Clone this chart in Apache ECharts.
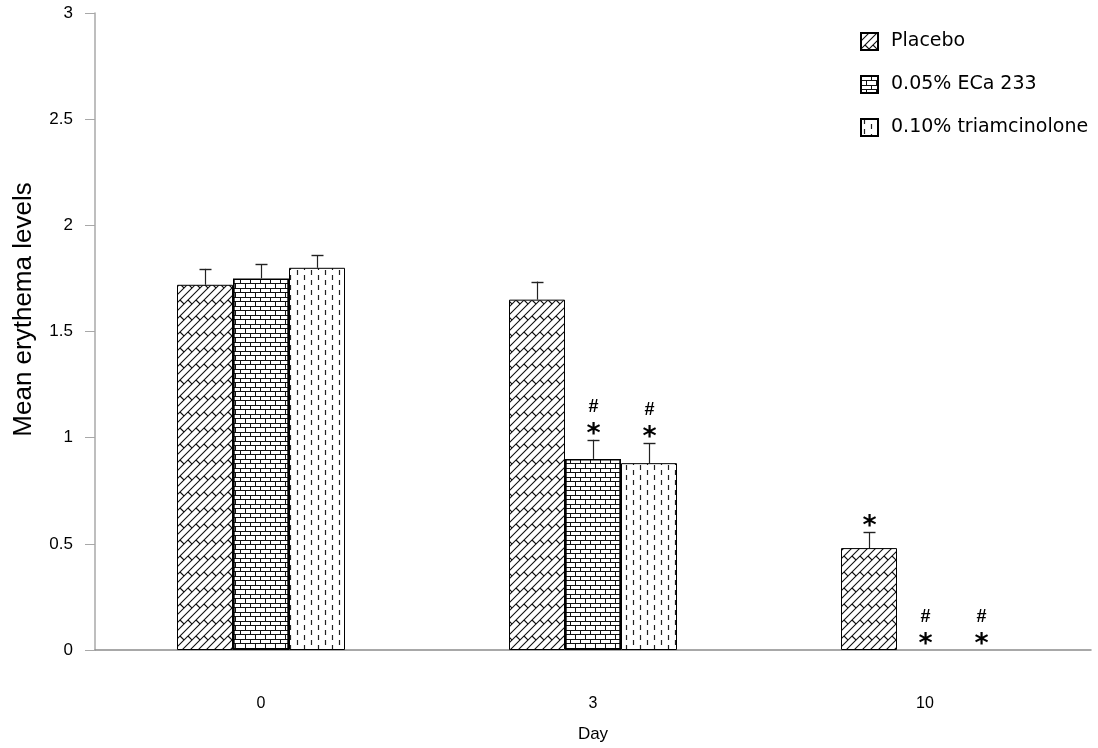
<!DOCTYPE html>
<html>
<head>
<meta charset="utf-8">
<script src="https://cdn.jsdelivr.net/npm/echarts@6/dist/echarts.min.js"></script>
<style>
  html, body { margin: 0; padding: 0; background: #fff; }
  #chart { width: 1098px; height: 748px; }
</style>
</head>
<body>
<div id="chart"></div>
<script>
// Day of assessment
const days = ['0', '3', '10'];
const seriesNames = ['Placebo', '0.05% ECa 233', '0.10% triamcinolone'];

// Mean erythema level per group
const placebo = [1.72, 1.65, 0.48];
const eca233 = [1.75, 0.90, 0];
const triamcinolone = [1.80, 0.88, 0];

// Standard error (upper bar only)
const placeboErr = [0.075, 0.085, 0.075];
const eca233Err = [0.068, 0.09, 0];
const triamcinoloneErr = [0.06, 0.094, 0];

// Significance marks: * vs baseline, # vs placebo
const placeboStar = [0, 0, 1];
const placeboHash = [0, 0, 0];
const eca233Star = [0, 1, 1];
const eca233Hash = [0, 1, 1];
const triamcinoloneStar = [0, 1, 1];
const triamcinoloneHash = [0, 1, 1];

const FONT = '"Liberation Sans", Arial, Helvetica, sans-serif';
const WIDE_FONT = '"DejaVu Sans", Verdana, sans-serif';
const BAR_W = 56;

// ---- fill patterns drawn on small tiles ----
function tile(w, h, draw) {
  const c = document.createElement('canvas');
  c.width = w; c.height = h;
  const ctx = c.getContext('2d');
  ctx.fillStyle = '#fff';
  ctx.fillRect(0, 0, w, h);
  draw(ctx);
  return { image: c, repeat: 'repeat' };
}

// diagonal shingle weave
const weavePattern = tile(16, 16, ctx => {
  ctx.strokeStyle = '#111';
  ctx.lineWidth = 1.1;
  ctx.beginPath();
  for (let c = -32; c <= 64; c += 8) {
    ctx.moveTo(c + 40, -40); ctx.lineTo(c - 40, 40);
    const k = Math.round(c / 8);
    const t0 = (((k % 2) + 2) % 2 === 0) ? 4 : 12;
    for (let t = t0 - 48; t <= 48; t += 16) {
      ctx.moveTo(t, c - t);
      ctx.lineTo(t + 4, c - t + 4);
    }
  }
  ctx.stroke();
});

// brick wall
const brickPattern = tile(20, 9, ctx => {
  ctx.strokeStyle = '#111';
  ctx.lineWidth = 1;
  ctx.beginPath();
  ctx.moveTo(0, 0.5); ctx.lineTo(20, 0.5);
  ctx.moveTo(0, 4.5); ctx.lineTo(20, 4.5);
  ctx.moveTo(0.5, 0); ctx.lineTo(0.5, 4.5);
  ctx.moveTo(10.5, 0); ctx.lineTo(10.5, 4.5);
  ctx.moveTo(5.5, 4.5); ctx.lineTo(5.5, 9);
  ctx.moveTo(15.5, 4.5); ctx.lineTo(15.5, 9);
  ctx.stroke();
});

// staggered vertical dashes
const dashPattern = tile(14, 10, ctx => {
  ctx.strokeStyle = '#222';
  ctx.lineWidth = 1.2;
  ctx.beginPath();
  ctx.moveTo(3.5, 0); ctx.lineTo(3.5, 5);
  ctx.moveTo(10.5, 5); ctx.lineTo(10.5, 10);
  ctx.stroke();
});

const groups = [
  { name: seriesNames[0], values: placebo, err: placeboErr, star: placeboStar, hash: placeboHash, fill: weavePattern, border: 1 },
  { name: seriesNames[1], values: eca233, err: eca233Err, star: eca233Star, hash: eca233Hash, fill: brickPattern, border: 1.7 },
  { name: seriesNames[2], values: triamcinolone, err: triamcinoloneErr, star: triamcinoloneStar, hash: triamcinoloneHash, fill: dashPattern, border: 1 }
];

const barSeries = groups.map(g => ({
  name: g.name,
  type: 'bar',
  barWidth: BAR_W,
  barGap: '0%',
  // a zero-height bar gets no outline so the axis stays clean
  data: g.values.map(v => (v === 0 ? { value: v, itemStyle: { borderWidth: 0 } } : v)),
  itemStyle: { color: g.fill, borderColor: '#000', borderWidth: g.border },
  emphasis: { disabled: true }
}));

// error bars plus significance marks
const annotationData = [];
groups.forEach((g, gi) => {
  days.forEach((d, di) => {
    annotationData.push([di, g.values[di], g.err[di], g.star[di], g.hash[di], gi]);
  });
});

const annotationSeries = {
  type: 'custom',
  data: annotationData,
  silent: true,
  z: 5,
  renderItem: function (params, api) {
    const cat = api.value(0);
    const val = api.value(1);
    const err = api.value(2);
    const star = api.value(3);
    const hash = api.value(4);
    const gi = api.value(5);
    const base = api.coord([cat, val]);
    const top = api.coord([cat, val + err]);
    const x = Math.round(base[0] + (gi - 1) * BAR_W) + 0.5;
    const children = [];
    if (err > 0) {
      children.push({
        type: 'line',
        shape: { x1: x, y1: base[1], x2: x, y2: top[1] },
        style: { stroke: '#222', lineWidth: 1.2 }
      });
      children.push({
        type: 'line',
        shape: { x1: x - 6, y1: Math.round(top[1]) + 0.5, x2: x + 6, y2: Math.round(top[1]) + 0.5 },
        style: { stroke: '#222', lineWidth: 1.4 }
      });
    }
    if (star) {
      children.push({
        type: 'text',
        x: x, y: top[1] - 5,
        style: { text: '*', font: 'bold 27px ' + WIDE_FONT, fill: '#000', align: 'center', verticalAlign: 'middle' }
      });
    }
    if (hash) {
      children.push({
        type: 'text',
        x: x, y: top[1] - 33,
        style: { text: '#', font: 'bold 18px ' + FONT, fill: '#000', align: 'center', verticalAlign: 'middle' }
      });
    }
    return { type: 'group', children: children };
  }
};

const chart = echarts.init(document.getElementById('chart'), null, { renderer: 'canvas' });
chart.setOption({
  backgroundColor: '#fff',
  animation: false,
  textStyle: { fontFamily: FONT },
  grid: { left: 95, right: 7, top: 13, bottom: 98, containLabel: false },
  legend: {
    orient: 'vertical',
    left: 855,
    top: 27,
    itemWidth: 17,
    itemHeight: 17,
    itemGap: 24,
    icon: 'rect',
    data: seriesNames,
    textStyle: { fontSize: 19, lineHeight: 17, color: '#000', fontFamily: WIDE_FONT, padding: [0, 0, 0, 8] }
  },
  xAxis: {
    type: 'category',
    data: days,
    name: 'Day',
    nameLocation: 'middle',
    nameGap: 76,
    nameTextStyle: { fontSize: 17, color: '#000', fontFamily: FONT },
    axisLine: { lineStyle: { color: '#8c8c8c', width: 1.5 } },
    axisTick: { show: false },
    axisLabel: { margin: 46, fontSize: 16, color: '#000', fontFamily: FONT }
  },
  yAxis: {
    type: 'value',
    min: 0,
    max: 3,
    interval: 0.5,
    name: 'Mean erythema levels',
    nameLocation: 'middle',
    nameGap: 58,
    nameTextStyle: { fontSize: 26, color: '#000', fontFamily: FONT, padding: [0, 0, 0, 44] },
    axisLine: { show: true, lineStyle: { color: '#a8a8a8', width: 1.5 } },
    axisTick: { show: true, length: 10, lineStyle: { color: '#a8a8a8' } },
    axisLabel: { margin: 22, fontSize: 17, color: '#000', fontFamily: FONT },
    splitLine: { show: false }
  },
  series: barSeries.concat([annotationSeries])
});
</script>
</body>
</html>
